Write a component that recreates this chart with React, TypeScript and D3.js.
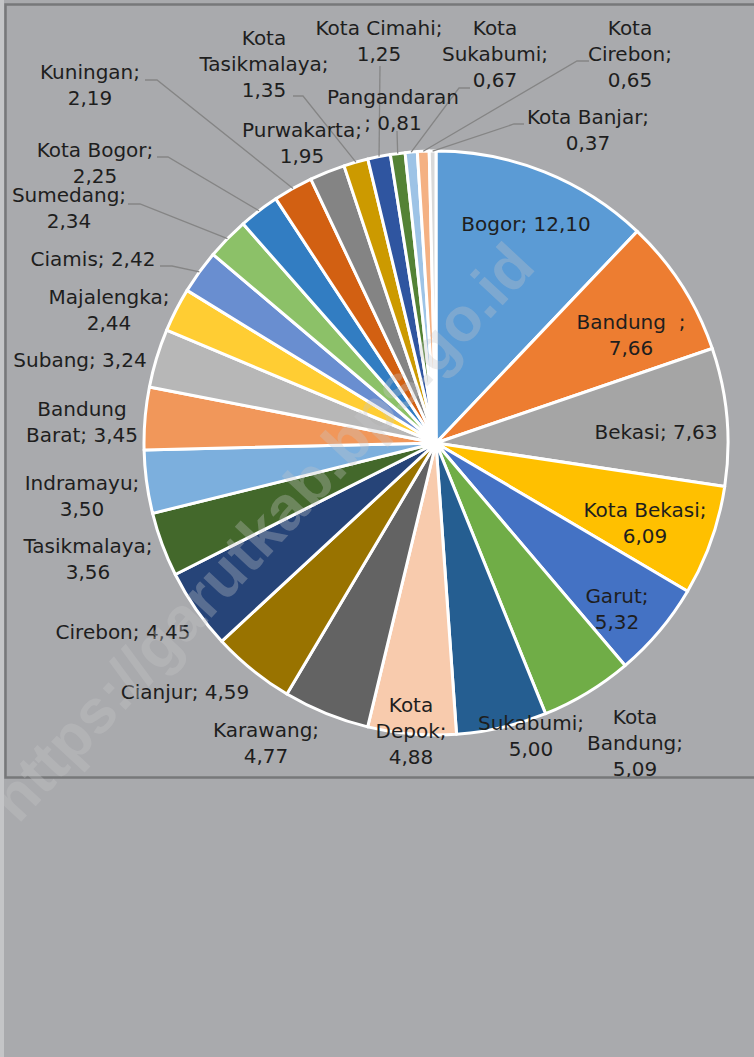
import { arc, pie, PieArcDatum } from "d3";

// Share of each district (percent), clockwise from 12 o'clock
const districts = [
  "Bogor", "Bandung", "Bekasi", "Kota Bekasi", "Garut", "Kota Bandung", "Sukabumi",
  "Kota Depok", "Karawang", "Cianjur", "Cirebon", "Tasikmalaya", "Indramayu",
  "Bandung Barat", "Subang", "Majalengka", "Ciamis", "Sumedang", "Kota Bogor",
  "Kuningan", "Purwakarta", "Kota Tasikmalaya", "Kota Cimahi", "Pangandaran",
  "Kota Sukabumi", "Kota Cirebon", "Kota Banjar",
];
const shares = [
  12.1, 7.66, 7.63, 6.09, 5.32, 5.09, 5.0, 4.88, 4.77, 4.59, 4.45, 3.56, 3.5,
  3.45, 3.24, 2.44, 2.42, 2.34, 2.25, 2.19, 1.95, 1.35, 1.25, 0.81, 0.67, 0.65, 0.37,
];
// label text, "|" = line break, {v} = value
const labelTemplates = [
  "Bogor; {v}", "Bandung  ;|{v}", "Bekasi; {v}", "Kota Bekasi;|{v}", "Garut;|{v}",
  "Kota|Bandung;|{v}", "Sukabumi;|{v}", "Kota|Depok;|{v}", "Karawang;|{v}",
  "Cianjur; {v}", "Cirebon; {v}", "Tasikmalaya;|{v}", "Indramayu;|{v}",
  "Bandung|Barat; {v}", "Subang; {v}", "Majalengka;|{v}", "Ciamis; {v}",
  "Sumedang;|{v}", "Kota Bogor;|{v}", "Kuningan;|{v}", "Purwakarta;|{v}",
  "Kota|Tasikmalaya;|{v}", "Kota Cimahi;|{v}", "Pangandaran|; {v}",
  "Kota|Sukabumi;|{v}", "Kota|Cirebon;|{v}", "Kota Banjar;|{v}",
];

const sliceColors = [
  "#5B9BD5", "#ED7D31", "#A5A5A5", "#FFC000", "#4472C4", "#70AD47", "#255E91",
  "#F8CBAD", "#636363", "#997300", "#264478", "#43682B", "#7CAFDD", "#F1975A",
  "#B7B7B7", "#FFCD33", "#698ED0", "#8CC168", "#327DC2", "#D26012", "#848484",
  "#CC9A00", "#2F55A0", "#548235", "#9DC3E6", "#F4B183", "#D9D9D9",
];

// layout: centre of first label line
const labelAt: [number, number][] = [
  [526, 224], [631, 322], [656, 432], [645, 510], [617, 596], [635, 717],
  [531, 723], [411, 705], [266, 730], [185, 692], [123, 632], [88, 546],
  [82, 483], [82, 409], [80, 360], [109, 297], [93, 259], [69, 195],
  [95, 150], [90, 72], [302, 130], [264, 38], [379, 28], [393, 97],
  [495, 28], [630, 28], [588, 117],
];
// leader start on the label side: [x, y, elbowX]
const leaderFrom: ([number, number, number] | null)[] = [
  null, null, null, null, null, null, null, null, null, null, null, null, null,
  null, null, null, [160, 266, 172], [128, 204, 140], [157, 157, 168],
  [145, 80, 157], null, [293, 96, 303], [380, 66, 380], [397, 131, 397],
  [470, 88, 459], [589, 61, 577], [524, 124, 514],
];

const W = 754;
const H = 1057;
const cx = 436;
const cy = 443;
const R = 292;
const LINE = 26;

const fmt = (v: number) => v.toFixed(2).replace(".", ",");

type Row = { name: string; value: number; i: number };

export default function App() {
  const rows: Row[] = districts.map((name, i) => ({ name, value: shares[i], i }));
  const arcs = pie<Row>().sort(null).value((d) => d.value)(rows);
  const slice = arc<PieArcDatum<Row>>().innerRadius(0).outerRadius(R);
  const rim = arc<PieArcDatum<Row>>().innerRadius(R).outerRadius(R);

  return (
    <div style={{ position: "absolute", left: 0, top: 0, width: W, height: H }}>
      <svg width={W} height={H} viewBox={`0 0 ${W} ${H}`} style={{ display: "block" }}>
        <defs>
          <clipPath id="frame-clip">
            <rect x={5} y={5} width={W} height={772} />
          </clipPath>
        </defs>
        <rect width={W} height={H} fill="#a9aaad" />
        <rect x={0} y={0} width={4} height={H} fill="#c4c5c7" />
        <rect x={5.5} y={4.5} width={W + 10} height={773} fill="none" stroke="#77787a" strokeWidth={2.5} />

        <g clipPath="url(#frame-clip)">
          <g transform={`translate(${cx},${cy})`}>
            {arcs.map((a) => (
              <path
                key={a.data.name}
                d={slice(a) ?? ""}
                fill={sliceColors[a.data.i]}
                stroke="#ffffff"
                strokeWidth={3}
                strokeLinejoin="round"
              />
            ))}
            {arcs.map((a) => {
              const from = leaderFrom[a.data.i];
              if (!from) return null;
              const [ex, ey] = rim.centroid(a);
              const pts = [
                [from[0] - cx, from[1] - cy],
                [from[2] - cx, from[1] - cy],
                [ex, ey],
              ];
              return (
                <polyline
                  key={`l-${a.data.name}`}
                  points={pts.map((p) => p.join(",")).join(" ")}
                  fill="none"
                  stroke="#858585"
                  strokeWidth={1.3}
                />
              );
            })}
          </g>

          {arcs.map((a) => {
            const i = a.data.i;
            const lines = labelTemplates[i].replace("{v}", fmt(a.data.value)).split("|");
            const [lx, ly] = labelAt[i];
            return (
              <text
                key={`t-${a.data.name}`}
                x={lx}
                y={ly}
                textAnchor="middle"
                fontFamily="DejaVu Sans, sans-serif"
                fontSize={20}
                fill="#1e1e1e"
                style={{ whiteSpace: "pre" }}
              >
                {lines.map((ln, k) => (
                  <tspan key={k} x={lx} y={ly + k * LINE} dominantBaseline="central">
                    {ln}
                  </tspan>
                ))}
              </text>
            );
          })}
        </g>

        <text
          transform="translate(262,532) rotate(-47)"
          textAnchor="middle"
          dominantBaseline="central"
          fontFamily="Liberation Sans, Arial, sans-serif"
          fontWeight="bold"
          fontSize={62}
          fill="#c6c6c8"
          opacity={0.32}
        >
          https://garutkab.bps.go.id
        </text>
      </svg>
    </div>
  );
}
